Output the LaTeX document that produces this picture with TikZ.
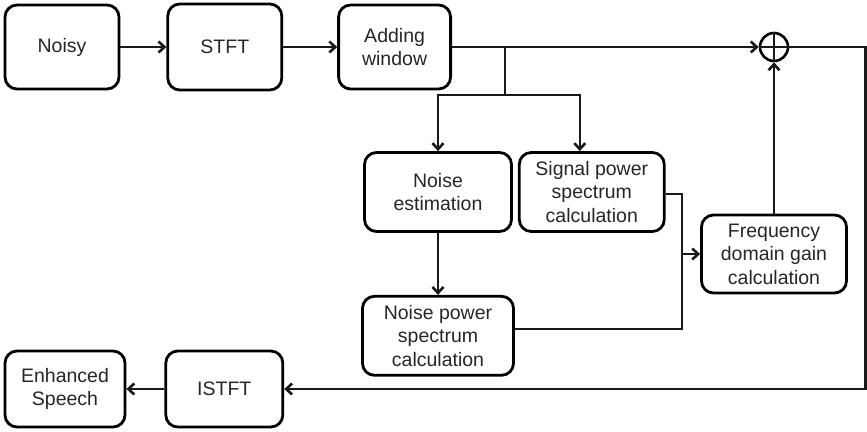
\documentclass[tikz,border=0pt]{standalone}
\usepackage{fontspec}
\setmainfont{Liberation Sans}
\usetikzlibrary{arrows.meta,positioning,calc}

\begin{document}
\begin{tikzpicture}[x=1pt,y=-1pt,
    block/.style={draw=black,line width=2.8pt,rounded corners=12pt,fill=white,
      align=center,inner sep=2pt,text=black!85,
      font=\fontsize{19.5}{23.5}\selectfont},
    link/.style={line width=2.6pt,black!90},
    arr/.style={link,-{Straight Barb[length=6pt,width=11pt]}}]
  \useasboundingbox (0,0) rectangle (867,431);
  % top row
  \node[block,minimum width=114pt,minimum height=84pt] (noisy) at (62,47) {Noisy};
  \node[block,minimum width=114pt,minimum height=86pt,right=46pt of noisy] (stft) {STFT};
  \node[block,minimum width=112pt,minimum height=84pt,right=54pt of stft] (window) {Adding\\window};
  \node[circle,draw=black,line width=2.6pt,minimum size=28pt,inner sep=0pt] (sum) at (774,47) {};
  \draw[link] (sum.north) -- (sum.south) (sum.west) -- (sum.east);
  % middle part
  \node[block,minimum width=147pt,minimum height=79pt] (noiseest) at (438,192) {Noise\\estimation};
  \node[block,minimum width=145pt,minimum height=79pt,right=5pt of noiseest] (sigpow)
        {Signal power\\spectrum\\calculation};
  \node[block,minimum width=151pt,minimum height=79pt,below=62pt of noiseest] (noisepow)
        {Noise power\\spectrum\\calculation};
  \node[block,minimum width=145pt,minimum height=78pt] (gain) at (774,254)
        {Frequency\\domain gain\\calculation};
  % bottom row
  \node[block,minimum width=120pt,minimum height=76pt] (enh) at (65,389) {Enhanced\\Speech};
  \node[block,minimum width=117pt,minimum height=76pt,right=38pt of enh] (istft) {ISTFT};

  \coordinate (split) at (505,47);
  \coordinate (fork) at (505,95);
  \coordinate (merge) at (682,254);
  \coordinate (cornerup) at (865.5,47);
  \coordinate (cornerdown) at (865.5,389);

  \draw[arr] (noisy) -- (stft);
  \draw[arr] (stft) -- (window);
  \draw[arr] (window) -- (sum);
  \draw[link] (split) -- (fork);
  \draw[arr] (fork) -| (noiseest);
  \draw[arr] (fork) -| ([xshift=-12pt]sigpow.north);
  \draw[arr] (noiseest) -- (noisepow);
  \draw[link] ([yshift=-2pt]sigpow.east) -| (merge);
  \draw[link] ([yshift=7pt]noisepow.east) -| (merge);
  \draw[arr] (merge) -- (gain);
  \draw[arr] (gain) -- (sum);
  \draw[arr] (sum) -- (cornerup) -- (cornerdown) -- (istft);
  \draw[arr] (istft) -- (enh);
\end{tikzpicture}
\end{document}
